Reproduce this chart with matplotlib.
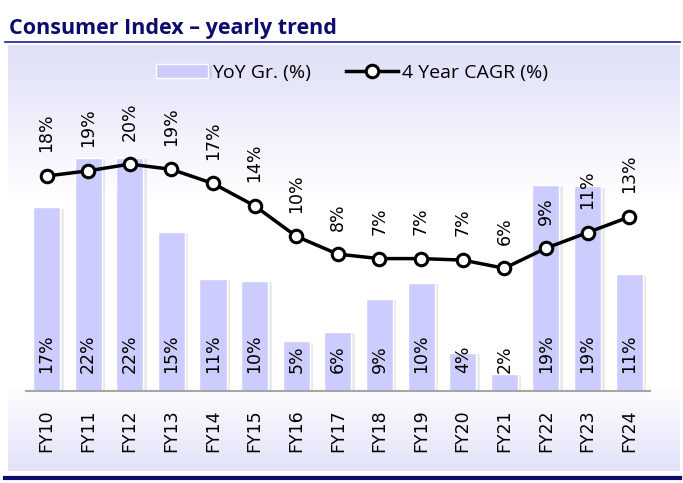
import matplotlib.pyplot as plt
import matplotlib.patheffects as pe
import numpy as np
from matplotlib.colors import LinearSegmentedColormap

# data
years = ["FY10", "FY11", "FY12", "FY13", "FY14", "FY15", "FY16", "FY17",
         "FY18", "FY19", "FY20", "FY21", "FY22", "FY23", "FY24"]
yoy_growth = [17.3, 22.0, 22.0, 15.0, 10.6, 10.4, 4.7, 5.6,
              8.7, 10.2, 3.6, 1.6, 19.4, 19.3, 11.0]
cagr_4y = [18.4, 19.1, 20.0, 19.3, 17.4, 14.4, 10.3, 7.9,
           7.3, 7.3, 7.1, 6.0, 8.7, 10.8, 12.9]

W, H = 683, 483
NAVY = "#0c0c6e"
BAR = "#ccccff"


def fx(px):
    return px / W


def fy(px):
    return 1 - px / H


fig = plt.figure(figsize=(W / 100, H / 100), dpi=100)

# gradient panel behind the chart
bg = fig.add_axes([fx(8), fy(471), fx(672), 426 / H])
cmap = LinearSegmentedColormap.from_list(
    "panel",
    [(0.0, (0.875, 0.875, 0.975)), (0.36, (1, 1, 1)), (0.80, (1, 1, 1)),
     (1.0, (0.885, 0.885, 0.98))],
)
bg.imshow(np.linspace(0, 1, 256).reshape(-1, 1), aspect="auto", cmap=cmap,
          extent=[0, 1, 0, 1], origin="upper")
bg.set_axis_off()

# title and rules
fig.text(fx(9), fy(34), "Consumer Index \u2013 yearly trend", fontsize=15.5,
         fontweight="bold", color=NAVY, family="Open Sans", va="baseline",
         ha="left")
fig.add_artist(plt.Line2D([fx(5), fx(680)], [fy(42), fy(42)],
                          color="#1a1aa0", lw=1.2))
fig.add_artist(plt.Line2D([fx(5), fx(680)], [fy(478), fy(478)],
                          color=NAVY, lw=3))

# main axes
ax = fig.add_axes([fx(25.7), fy(391), fx(624.3), 331 / H])
ax.patch.set_alpha(0)
x = np.arange(len(years))
bars = ax.bar(x, yoy_growth, width=0.65, color=BAR, edgecolor="white",
              linewidth=1, label="YoY Gr. (%)", zorder=2)
for b in bars:
    b.set_path_effects([pe.SimplePatchShadow(offset=(2.5, -1), alpha=0.08,
                                             shadow_rgbFace="black"),
                        pe.Normal()])
ax.set_xlim(-0.5, len(years) - 0.5)
ax.set_ylim(0, 31.2)
ax.set_yticks([])
ax.set_xticks(x)
ax.set_xticklabels(years, rotation=90, fontsize=12.5, family="DejaVu Sans")
ax.tick_params(axis="x", length=0, pad=13)
for s in ["top", "left", "right"]:
    ax.spines[s].set_visible(False)
ax.spines["bottom"].set_color("#a6a6a6")
ax.spines["bottom"].set_linewidth(1.5)

for xi, v in zip(x, yoy_growth):
    ax.annotate(f"{v:.0f}%", (xi, 0), xytext=(0, 13), textcoords="offset points",
                rotation=90, ha="center", va="bottom", fontsize=12.5, zorder=5)

ax2 = ax.twinx()
ax2.set_ylim(-10.5, 34.0)
ax2.set_axis_off()
line, = ax2.plot(x, cagr_4y, color="black", lw=2.5, marker="o", markersize=9,
                 markerfacecolor="white", markeredgecolor="black",
                 markeredgewidth=2.2, label="4 Year CAGR (%)", zorder=4)
for xi, v in zip(x, cagr_4y):
    ax2.annotate(f"{v:.0f}%", (xi, v), xytext=(0, 17), textcoords="offset points",
                 rotation=90, ha="center", va="bottom", fontsize=12.5)

fig.legend([bars, line], ["YoY Gr. (%)", "4 Year CAGR (%)"], loc="center",
           bbox_to_anchor=(fx(352), fy(73)), ncol=2, frameon=False,
           prop={"family": "Open Sans", "size": 14}, handlelength=2.7,
           handletextpad=0.2, columnspacing=1.8)

fig.savefig("out.png", dpi=100)
